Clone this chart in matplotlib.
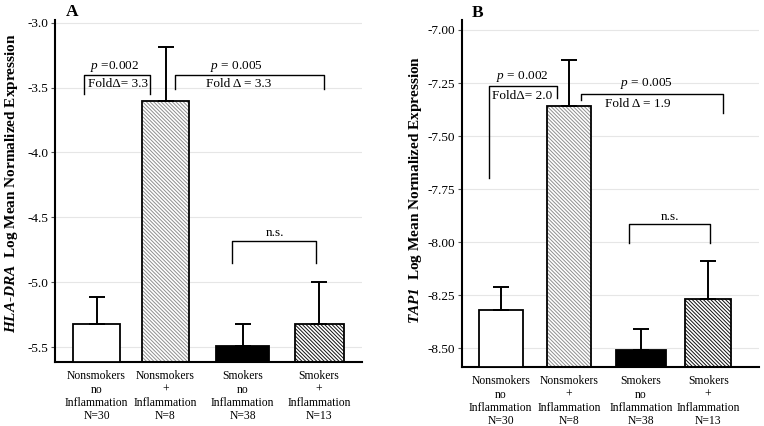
import numpy as np
import matplotlib
matplotlib.use("Agg")
import matplotlib.pyplot as plt

plt.rcParams["font.family"] = ["Liberation Serif", "DejaVu Serif"]
plt.rcParams["mathtext.fontset"] = "custom"
plt.rcParams["mathtext.rm"] = "Liberation Serif"
plt.rcParams["mathtext.it"] = "Liberation Serif:italic"
plt.rcParams["mathtext.bf"] = "Liberation Serif:bold"
plt.rcParams["mathtext.bfit"] = "Liberation Serif:italic:bold"
plt.rcParams["hatch.linewidth"] = 0.7

# groups shown on both panels
groups = ["Nonsmokers\nno\nInflammation\nN=30",
          "Nonsmokers\n+\nInflammation\nN=8",
          "Smokers\nno\nInflammation\nN=38",
          "Smokers\n+\nInflammation\nN=13"]

# panel A: HLA-DRA (mean and top of error bar)
hla_mean = [-5.32, -3.60, -5.49, -5.32]
hla_err_top = [-5.11, -3.19, -5.32, -5.00]
hla_ticks = [-5.5, -5.0, -4.5, -4.0, -3.5, -3.0]

# panel B: TAP1
tap_mean = [-8.32, -7.36, -8.51, -8.27]
tap_err_top = [-8.21, -7.14, -8.41, -8.09]
tap_ticks = [-8.50, -8.25, -8.00, -7.75, -7.50, -7.25, -7.00]

# bar styles: face, hatch, hatch colour
styles = [("white", None, None),
          ("white", "\\" * 9, "#8f8f8f"),
          ("black", None, None),
          ("white", "\\" * 9, "#111111")]
widths = [0.64, 0.63, 0.72, 0.66]


def draw_panel(ax, xpos, mean, err_top, ticks, ylim, xlim, fmt):
    ymin = ylim[0]
    heights = [m - ymin for m in mean]
    for i in range(len(mean)):
        face, hatch, hcol = styles[i]
        if hatch:
            ax.bar(xpos[i], heights[i], bottom=ymin, width=widths[i],
                   color=face, edgecolor=hcol, hatch=hatch, linewidth=0, zorder=2)
            ax.bar(xpos[i], heights[i], bottom=ymin, width=widths[i],
                   color="none", edgecolor="black", linewidth=1.3, zorder=3)
        else:
            ax.bar(xpos[i], heights[i], bottom=ymin, width=widths[i],
                   color=face, edgecolor="black", linewidth=1.3, zorder=3)
    up = np.array(err_top) - np.array(mean)
    ax.errorbar(xpos, mean, yerr=[np.zeros(len(mean)), up], fmt="none",
                ecolor="black", elinewidth=1.4, capsize=5.5, capthick=1.4, zorder=4)

    ax.set_ylim(*ylim)
    ax.set_xlim(*xlim)
    ax.set_yticks(ticks)
    ax.set_yticklabels([fmt.format(t) for t in ticks], fontsize=9.5)
    ax.yaxis.grid(True, color="#e6e6e6", linewidth=0.8, zorder=0)
    ax.set_axisbelow(True)
    ax.set_xticks(xpos)
    ax.set_xticklabels(groups, fontsize=8.4, linespacing=1.15)
    ax.tick_params(axis="x", length=0, pad=6)
    ax.tick_params(axis="y", length=3, width=0.8, pad=2, color="#555555")
    for s in ["top", "right"]:
        ax.spines[s].set_visible(False)
    ax.spines["left"].set_linewidth(1.5)
    ax.spines["bottom"].set_linewidth(1.5)


def bracket(ax, x0, x1, ytop, yl, yr):
    ax.plot([x0, x0, x1, x1], [yl, ytop, ytop, yr], color="black", lw=1.0, zorder=5)


fig = plt.figure(figsize=(7.64, 4.26), dpi=100)

axA = fig.add_axes([0.072, 0.150, 0.402, 0.803])
draw_panel(axA, [0, 0.93, 1.97, 3.0], hla_mean, hla_err_top, hla_ticks,
           (-5.615, -2.98), (-0.56, 3.58), "{:.1f}")
bracket(axA, -0.17, 0.72, -3.40, -3.55, -3.55)
bracket(axA, 1.06, 3.07, -3.40, -3.51, -3.51)
bracket(axA, 1.83, 2.96, -4.685, -4.85, -4.85)
axA.text(0.24, -3.335, r"$p$ =0.002", ha="center", va="center", fontsize=9.5)
axA.text(-0.12, -3.47, "Fold\u0394= 3.3", ha="left", va="center", fontsize=9.5)
axA.text(1.88, -3.335, r"$p$ = 0.005", ha="center", va="center", fontsize=9.5)
axA.text(1.92, -3.47, "Fold \u0394 = 3.3", ha="center", va="center", fontsize=9.5)
axA.text(2.40, -4.62, "n.s.", ha="center", va="center", fontsize=9.5)

axB = fig.add_axes([0.605, 0.1385, 0.388, 0.8145])
draw_panel(axB, [0, 0.99, 2.03, 3.0], tap_mean, tap_err_top, tap_ticks,
           (-8.589, -6.953), (-0.556, 3.73), "{:.2f}")
bracket(axB, -0.17, 0.82, -7.266, -7.70, -7.32)
bracket(axB, 1.16, 3.21, -7.30, -7.33, -7.39)
bracket(axB, 1.85, 3.02, -7.916, -8.005, -8.005)
axB.text(0.31, -7.22, r"$p$ = 0.002", ha="center", va="center", fontsize=9.5)
axB.text(-0.13, -7.31, "Fold\u0394= 2.0", ha="left", va="center", fontsize=9.5)
axB.text(2.11, -7.25, r"$p$ = 0.005", ha="center", va="center", fontsize=9.5)
axB.text(1.98, -7.35, "Fold \u0394 = 1.9", ha="center", va="center", fontsize=9.5)
axB.text(2.45, -7.88, "n.s.", ha="center", va="center", fontsize=9.5)

fig.text(12 / 764, 1 - 183 / 426, r"$\mathbfit{HLA}$-$\mathbfit{DRA}$  Log Mean Normalized Expression",
         rotation=90, ha="center", va="center", fontsize=11, fontweight="bold")
fig.text(415 / 764, 1 - 190 / 426, r"$\mathbfit{TAP1}$  Log Mean Normalized Expression",
         rotation=90, ha="center", va="center", fontsize=11, fontweight="bold")
fig.text(72 / 764, 1 - 12 / 426, "A", ha="center", va="center", fontsize=12.5, fontweight="bold")
fig.text(478 / 764, 1 - 13 / 426, "B", ha="center", va="center", fontsize=12.5, fontweight="bold")

fig.savefig("out.png", dpi=100)
